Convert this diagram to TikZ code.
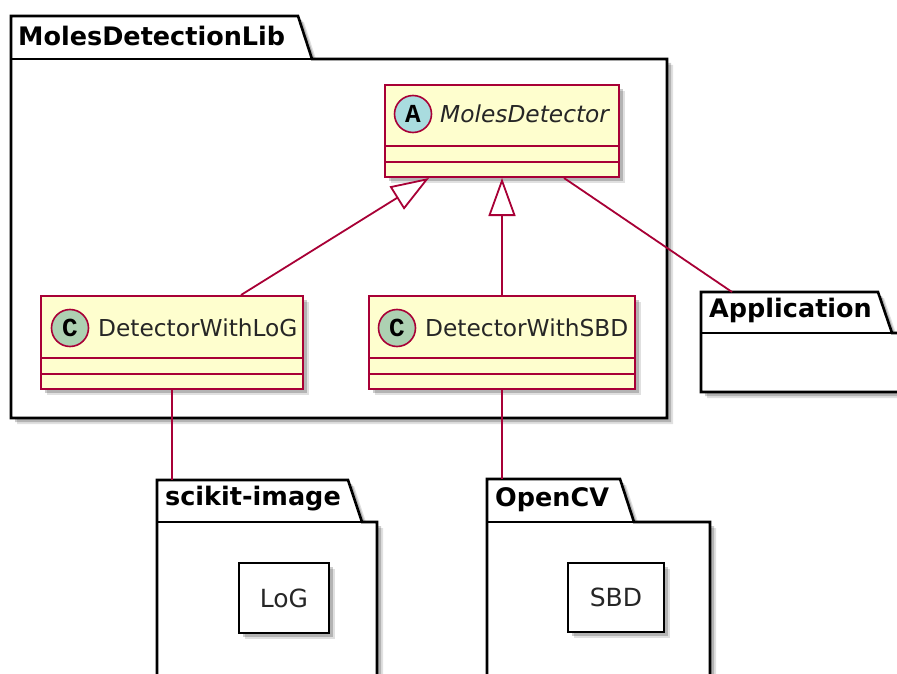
\documentclass[tikz,border=0pt]{standalone}
\usepackage{fontspec}
\setmainfont{DejaVu Sans}
\newfontfamily\iconfont{Liberation Mono}
\usetikzlibrary{arrows.meta,calc}
\definecolor{umlred}{HTML}{A80036}
\definecolor{umlfill}{HTML}{FEFECE}
\definecolor{abscircle}{HTML}{A9DCDF}
\definecolor{clscircle}{HTML}{ADD1B2}
\tikzset{
  shad/.style={preaction={fill=black, opacity=0.12, transform canvas={shift={(6pt,-6pt)}}},
               preaction={fill=black, opacity=0.2, transform canvas={shift={(4pt,-4pt)}}}},
  classbox/.style={draw=umlred, fill=umlfill, line width=2pt, shad, rectangle, inner sep=0pt},
  sepline/.style={draw=umlred, line width=2pt},
  pkg/.style={draw=black, fill=white, line width=2.6pt, shad, line join=miter},
  pkgline/.style={draw=black, line width=2.6pt},
  pkgtitle/.style={font=\bfseries\fontsize{25.5}{30}\selectfont, anchor=west, inner sep=0pt},
  cname/.style={font=\fontsize{23.3}{28}\selectfont, anchor=west, inner sep=0pt, text=black!85},
  icon/.style={circle, draw=umlred, line width=1.6pt, minimum size=37pt, inner sep=0pt, font=\iconfont\bfseries\fontsize{26}{30}\selectfont},
  conn/.style={draw=umlred, line width=1.8pt},
  inh/.style={conn, -{Triangle[open, length=38pt, width=27pt, fill=white]}},
  libbox/.style={draw=black, fill=white, line width=2pt, shad, rectangle, inner sep=0pt, font=\fontsize{25}{30}\selectfont, text=black!85},
}
\begin{document}
\begin{tikzpicture}[x=1pt,y=-1pt]
\useasboundingbox (0,0) rectangle (897,674);
\clip (0,0) rectangle (897,674);
\fill[white] (0,0) rectangle (897,674);

% package MolesDetectionLib
\path[pkg] (11,59) -- (11,16) -- (298,16) -- (312,59) -- (667,59) -- (667,418) -- (11,418) -- cycle;
\draw[pkgline] (11,59) -- (312,59);
\node[pkgtitle] (t1) at (18,36) {MolesDetectionLib};

% package Application
\path[pkg] (701,333) -- (701,292) -- (878,292) -- (892,333) -- (910,333) -- (910,392) -- (701,392) -- cycle;
\draw[pkgline] (701,333) -- (892,333);
\node[pkgtitle] (t2) at (709,310) {Application};
\coordinate (apptab) at (732,292);

% package scikit-image
\path[pkg] (157,522) -- (157,480) -- (348,480) -- (362,522) -- (377,522) -- (377,700) -- (157,700) -- cycle;
\draw[pkgline] (157,522) -- (362,522);
\node[pkgtitle] (t3) at (165,499) {scikit-image};
\coordinate (skt) at (172,480);
\node[libbox, minimum width=90pt, minimum height=70pt] (log) at (284,598) {LoG};

% package OpenCV
\path[pkg] (487,522) -- (487,479) -- (620,479) -- (634,522) -- (710,522) -- (710,700) -- (487,700) -- cycle;
\draw[pkgline] (487,522) -- (634,522);
\node[pkgtitle] (t4) at (495,500) {OpenCV};
\coordinate (ocv) at (502,479);
\node[libbox, minimum width=96pt, minimum height=69pt] (sbd) at (616,597.5) {SBD};

% class MolesDetector
\node[classbox, minimum width=234pt, minimum height=92pt] (md) at (502,131) {};
\draw[sepline] (385,146) -- (619,146);
\draw[sepline] (385,162) -- (619,162);
\node[icon, fill=abscircle] (mdi) at (413,114) {A};
\node[cname, font=\itshape\fontsize{23.3}{28}\selectfont] (mdn) at (440,114) {MolesDetector};

% class DetectorWithLoG
\node[classbox, minimum width=262pt, minimum height=93pt] (clog) at (172,342.5) {};
\draw[sepline] (41,358) -- (303,358);
\draw[sepline] (41,374) -- (303,374);
\node[icon, fill=clscircle] (clogi) at (70,328) {C};
\node[cname] (clogn) at (98,328) {DetectorWithLoG};

% class DetectorWithSBD
\node[classbox, minimum width=266pt, minimum height=93pt] (csbd) at (502,342.5) {};
\draw[sepline] (369,358) -- (635,358);
\draw[sepline] (369,374) -- (635,374);
\node[icon, fill=clscircle] (csbdi) at (397,328) {C};
\node[cname] (csbdn) at (425,328) {DetectorWithSBD};

% connectors
\draw[inh] ($(clog.north west)+(201,0)$) -- ($(md.south west)+(45,0)$);
\draw[inh] (csbd.north) -- (csbd.north |- md.south);
\draw[conn] ($(md.south west)+(180,0)$) -- (apptab);
\draw[conn] (clog.south) -- (skt);
\draw[conn] (csbd.south) -- (ocv);
\end{tikzpicture}
\end{document}
